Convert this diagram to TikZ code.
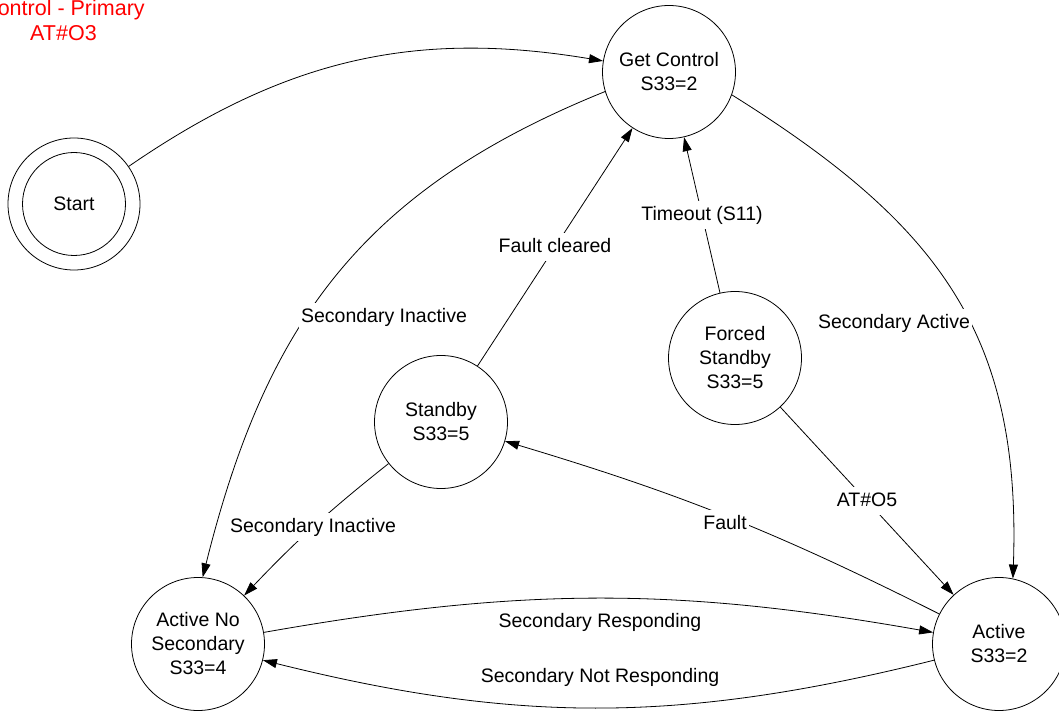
\documentclass[tikz,border=0pt]{standalone}
\usepackage{fontspec}
\setmainfont{Liberation Sans}
\usetikzlibrary{arrows.meta}
\definecolor{NoteRed}{RGB}{255,0,0}
\tikzset{
  statenode/.style={draw, circle, minimum size=133pt, inner sep=0pt, align=center, font=\fontsize{19.5}{24}\selectfont},
  lbl/.style={fill=white, inner xsep=2pt, inner ysep=5pt, text height=14.5pt, text depth=4pt, font=\fontsize{19.5}{24}\selectfont},
  trans/.style={-{Triangle[length=14pt,width=9pt]}},
}

\begin{document}
\begin{tikzpicture}[x=1pt, y=1pt, line width=0.8pt]
        \useasboundingbox (0,0) rectangle (1059,710);
        \node[statenode, minimum size=132pt] (init) at (74,506) {Start};
        \draw (init) circle[radius=51.5pt];
        \node[statenode] (getctl) at (669,638) {Get Control\\S33=2};
        \node[statenode] (standby) at (441,288) {Standby\\S33=5};
        \node[statenode] (forced) at (735,352) {Forced\\Standby\\S33=5};
        \node[statenode] (active) at (999,66) {Active\\S33=2};
        \node[statenode] (activens) at (198,66) {Active No\\Secondary\\S33=4};
        \node[NoteRed, align=center, font=\fontsize{21.5}{25}\selectfont] (note) at (63.5,689.5) {Control - Primary\\AT\#O3};
        \draw[trans] (init) to[bend left=22] (getctl);
        \draw[trans] (getctl.197) to[out=202, in=76, looseness=1.06] (activens.86);
        \draw[trans] (getctl.-20) to[out=-32, in=88, looseness=1.12] (active.78);
        \draw[trans] (standby) -- (getctl) node[lbl, midway] (lfcl) {Fault cleared};
        \draw[trans] (forced) -- (getctl) node[lbl, midway] (ltmo) {Timeout (S11)};
        \draw[trans] (forced) -- (active) node[lbl, midway] (lato) {AT\#O5};
        \draw[trans] (active) to[bend right=5] (standby);
        \draw[trans] (standby) to[bend right=4] (activens);
        \draw[trans] (activens) to[bend left=10] (active);
        \draw[trans] (active) to[bend left=14] (activens);
        \node[lbl] (lsinup) at (384,393) {Secondary Inactive};
        \node[lbl] (lsact) at (894,387) {Secondary Active};
        \node[lbl] (lflt) at (725,186) {Fault};
        \node[lbl] (lsinlo) at (313,183) {Secondary Inactive};
        \node[lbl] (lsrsp) at (600,88) {Secondary Responding};
        \node[lbl] (lsnrsp) at (600,33) {Secondary Not Responding};
\end{tikzpicture}
\end{document}
